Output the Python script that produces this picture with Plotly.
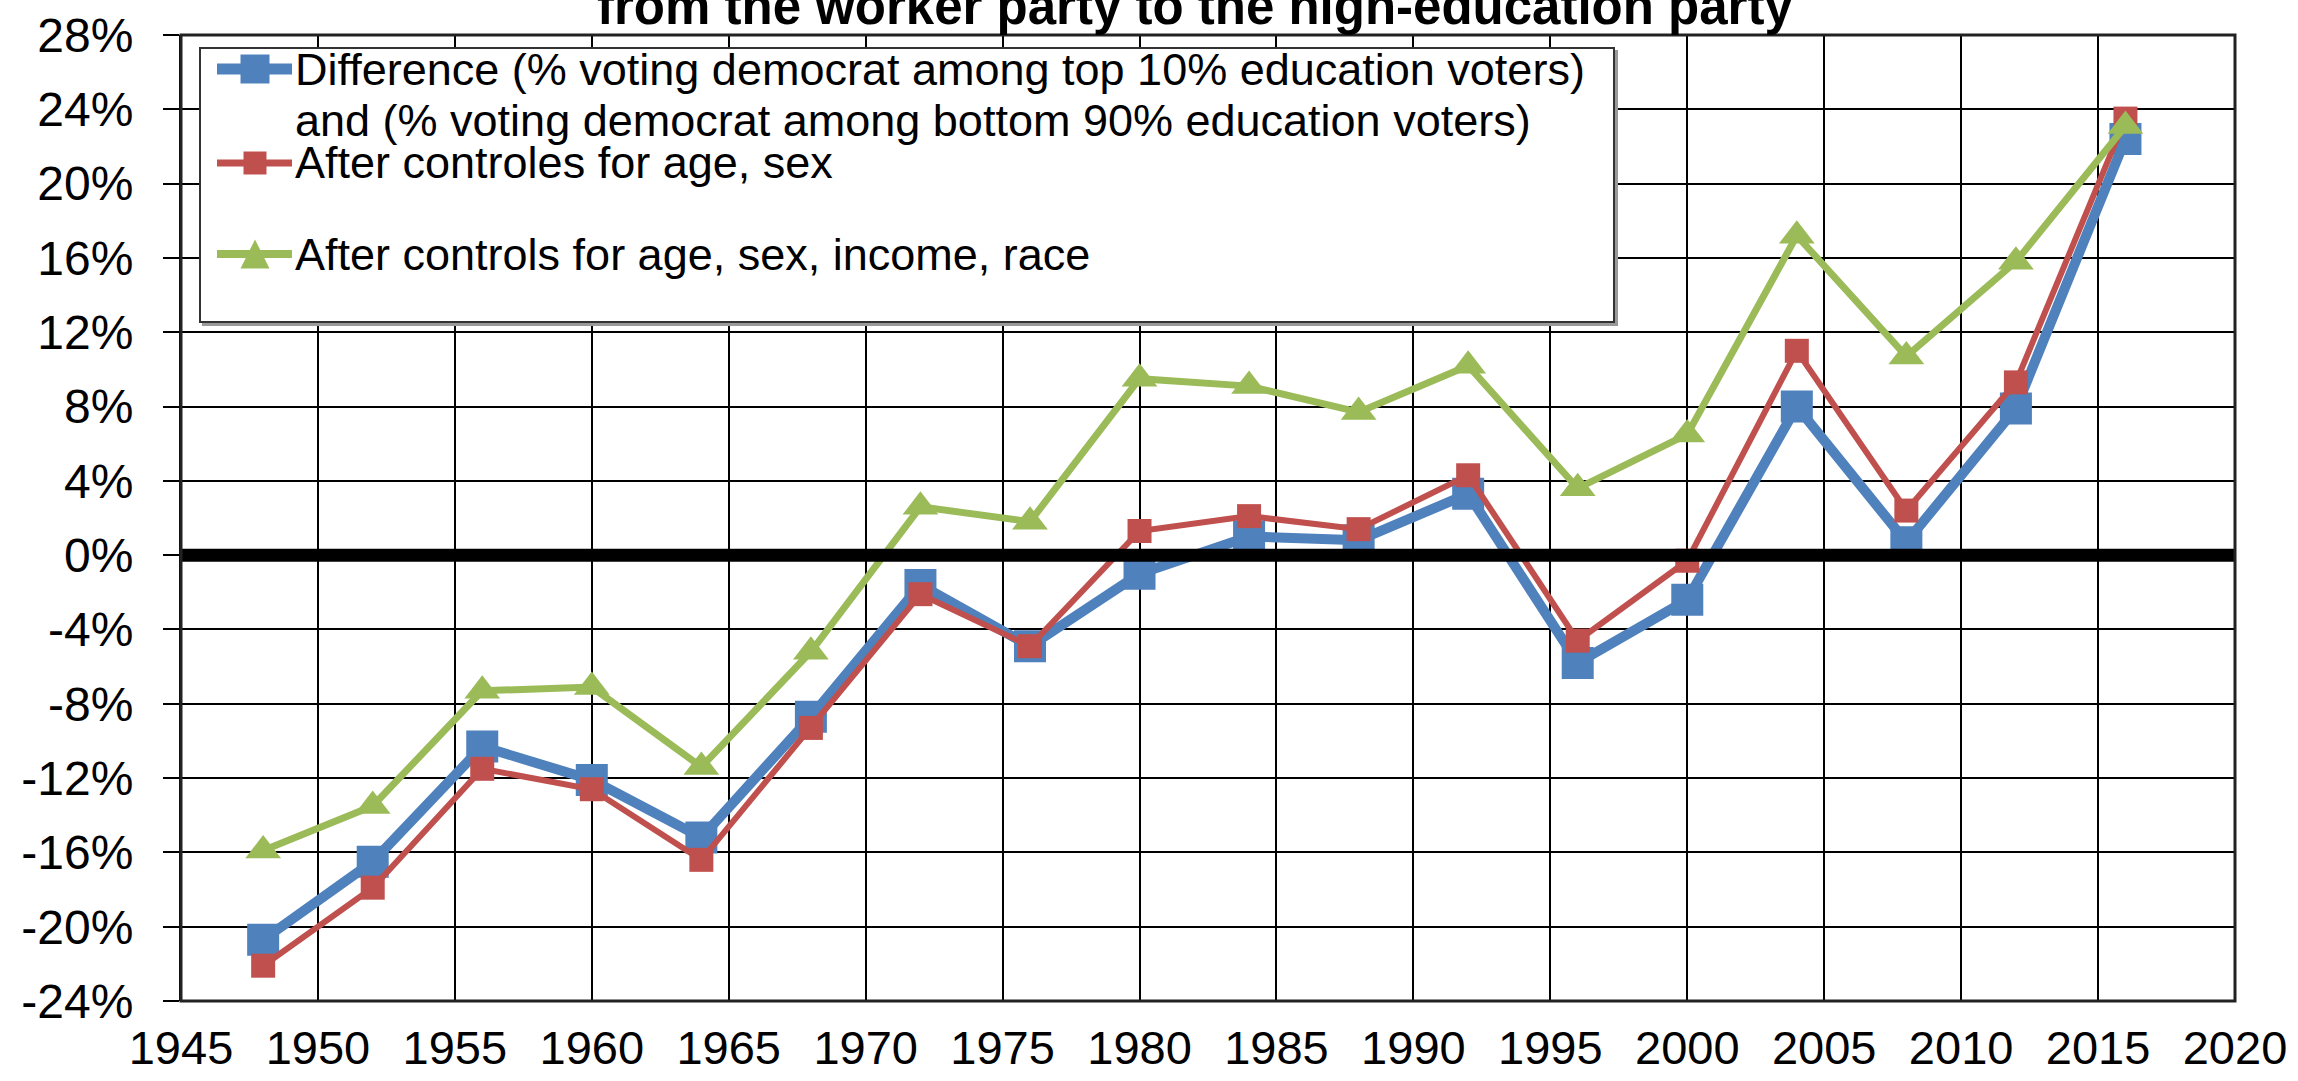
import plotly.graph_objects as go

# Election years and the education gap series (percentage points)
years = [1948, 1952, 1956, 1960, 1964, 1968, 1972, 1976, 1980,
         1984, 1988, 1992, 1996, 2000, 2004, 2008, 2012, 2016]
difference = [-20.7, -16.5, -10.3, -12.1, -15.2, -8.7, -1.6, -4.9, -1.0,
              1.0, 0.8, 3.3, -5.8, -2.4, 8.0, 0.7, 7.9, 22.4]
ctrl_age_sex = [-22.1, -17.9, -11.5, -12.6, -16.4, -9.3, -2.1, -4.9, 1.3,
                2.1, 1.4, 4.3, -4.6, -0.3, 11.0, 2.4, 9.3, 23.5]
ctrl_all = [-15.9, -13.5, -7.3, -7.1, -11.4, -5.2, 2.6, 1.8, 9.5,
            9.1, 7.7, 10.2, 3.6, 6.5, 17.2, 10.7, 15.8, 23.1]

series_names = [
    "Difference (% voting democrat among top 10% education voters)",
    "and (% voting democrat among bottom 90% education voters)",
    "After controles for age, sex",
    "After controls for age, sex, income, race",
]
title_text = "from the worker party to the high-education party"

y_tick_vals = [-24, -20, -16, -12, -8, -4, 0, 4, 8, 12, 16, 20, 24, 28]
y_tick_text = ["-24%", "-20%", "-16%", "-12%", "-8%", "-4%", "0%",
               "4%", "8%", "12%", "16%", "20%", "24%", "28%"]
x_tick_vals = list(range(1945, 2021, 5))

BLUE = "#4F81BD"
RED = "#C0504D"
GREEN = "#9BBB59"
FONT = "Liberation Sans, Arial, sans-serif"

W, H = 2298, 1081
ML, MR, MT, MB = 181, 63, 35, 80
PW, PH = W - ML - MR, H - MT - MB


def px_x(px):
    return (px - ML) / PW


def px_y(py):
    return (H - MB - py) / PH


fig = go.Figure()
fig.add_trace(go.Scatter(
    x=years, y=difference, mode="lines+markers", showlegend=False,
    line=dict(color=BLUE, width=10),
    marker=dict(symbol="square", size=32, color=BLUE),
))
fig.add_trace(go.Scatter(
    x=years, y=ctrl_age_sex, mode="lines+markers", showlegend=False,
    line=dict(color=RED, width=6),
    marker=dict(symbol="square", size=24, color=RED),
))
fig.add_trace(go.Scatter(
    x=years, y=ctrl_all, mode="lines+markers", showlegend=False,
    line=dict(color=GREEN, width=7),
    marker=dict(symbol="triangle-up", size=31, color=GREEN),
))

shapes = []
# heavy zero line drawn over the series
shapes.append(dict(type="line", xref="x", yref="y", x0=1945, x1=2020, y0=0, y1=0,
                   line=dict(color="black", width=13), layer="above"))
# plot frame
shapes.append(dict(type="rect", xref="paper", yref="paper", x0=0, x1=1, y0=0, y1=1,
                   line=dict(color="#222222", width=3), layer="above"))

# legend box with a faint shadow
lx0, lx1, ly0, ly1 = 200, 1614, 48, 322
shapes.append(dict(type="rect", xref="paper", yref="paper",
                   x0=px_x(lx0 + 3), x1=px_x(lx1 + 3), y0=px_y(ly1 + 3), y1=px_y(ly0 + 3),
                   line=dict(color="#9a9a9a", width=2), fillcolor="#9a9a9a", layer="above"))
shapes.append(dict(type="rect", xref="paper", yref="paper",
                   x0=px_x(lx0), x1=px_x(lx1), y0=px_y(ly1), y1=px_y(ly0),
                   line=dict(color="#333333", width=2), fillcolor="white", layer="above"))

# legend samples
samples = [
    (69, BLUE, 11, "square", 29),
    (163, RED, 7, "square", 23),
    (254, GREEN, 8, "triangle", 29),
]
for cy, col, lw, sym, sz in samples:
    shapes.append(dict(type="line", xref="paper", yref="paper",
                       x0=px_x(217), x1=px_x(292), y0=px_y(cy), y1=px_y(cy),
                       line=dict(color=col, width=lw), layer="above"))
    cx = 255
    if sym == "square":
        shapes.append(dict(type="rect", xref="paper", yref="paper",
                           x0=px_x(cx - sz / 2), x1=px_x(cx + sz / 2),
                           y0=px_y(cy + sz / 2), y1=px_y(cy - sz / 2),
                           line=dict(width=0), fillcolor=col, layer="above"))
    else:
        path = "M {} {} L {} {} L {} {} Z".format(
            px_x(cx - sz / 2), px_y(cy + sz / 2),
            px_x(cx + sz / 2), px_y(cy + sz / 2),
            px_x(cx), px_y(cy - sz / 2))
        shapes.append(dict(type="path", xref="paper", yref="paper", path=path,
                           line=dict(width=0), fillcolor=col, layer="above"))

annotations = []
for text, cy in zip(series_names, [69, 121, 163, 254]):
    annotations.append(dict(
        text=text, xref="paper", yref="paper", x=px_x(293), y=px_y(cy),
        xanchor="left", yanchor="middle", showarrow=False,
        font=dict(family=FONT, size=45, color="black"),
    ))
annotations.append(dict(
    text="<b>" + title_text + "</b>", xref="paper", yref="paper",
    x=px_x(1195), y=1, xanchor="center", yanchor="bottom", yshift=-2,
    showarrow=False, font=dict(family=FONT, size=51, color="black"),
))

fig.update_layout(
    width=W, height=H,
    margin=dict(l=ML, r=MR, t=MT, b=MB, pad=0, autoexpand=False),
    paper_bgcolor="white", plot_bgcolor="white",
    font=dict(family=FONT, color="black"),
    shapes=shapes, annotations=annotations,
    showlegend=False,
)
fig.update_xaxes(
    range=[1945, 2020], tickvals=x_tick_vals, ticktext=[str(v) for v in x_tick_vals],
    showgrid=True, gridcolor="black", gridwidth=2, automargin=False,
    ticks="", tickfont=dict(family=FONT, size=47), ticklabelstandoff=15,
    showline=False, zeroline=False,
)
fig.update_yaxes(
    range=[-24, 28], tickvals=y_tick_vals, ticktext=y_tick_text,
    showgrid=True, gridcolor="black", gridwidth=2, automargin=False,
    ticks="outside", ticklen=16, tickwidth=2, tickcolor="black",
    tickfont=dict(family=FONT, size=48), ticklabelstandoff=20,
    showline=True, linecolor="black", linewidth=2, zeroline=False,
)

fig.write_html("out.html")
